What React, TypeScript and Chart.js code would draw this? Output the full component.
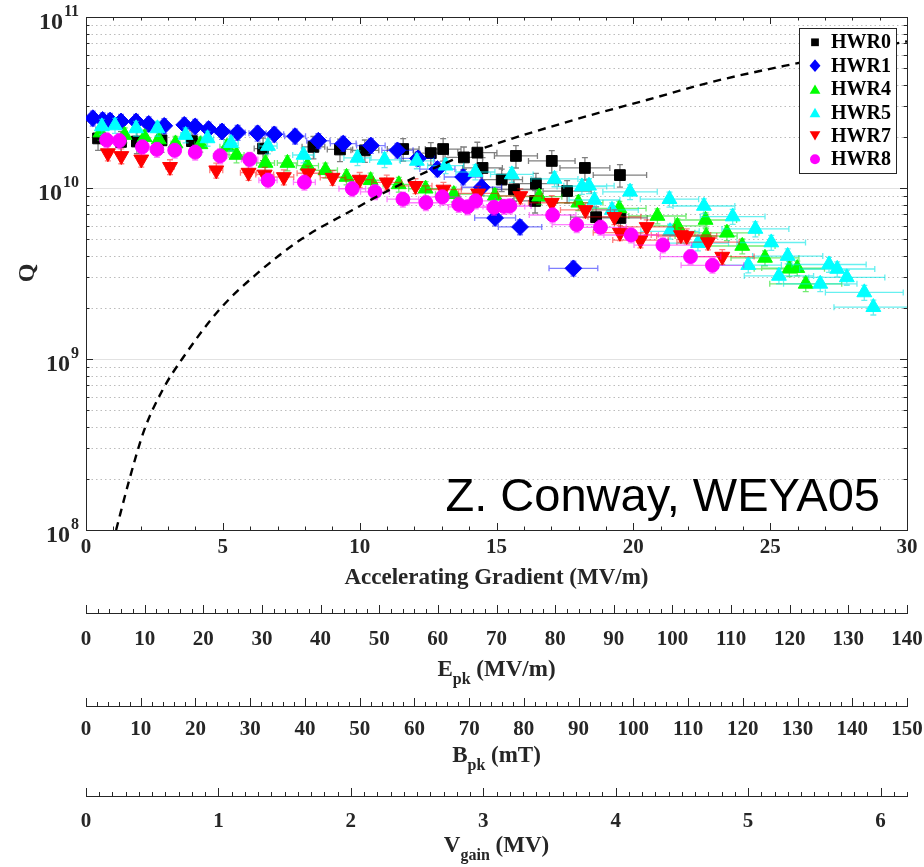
import React, { useEffect, useRef } from "react";
import { Chart, registerables } from "chart.js";

Chart.register(...registerables);

const FONT = "'Liberation Serif', 'Times New Roman', Times, serif";
const SANS = "'Liberation Sans', Arial, Helvetica, sans-serif";
const AXIS_COLOR = "#262626";

// ---------------- data ----------------
const SERIES_LABELS = ["HWR0", "HWR1", "HWR4", "HWR5", "HWR7", "HWR8"];

const HWR0_E = [0.44, 1.28, 1.86, 2.76, 3.87, 6.47, 8.31, 9.28, 10.19, 11.59, 12.6, 13.05, 13.81, 14.3, 14.49, 15.19, 15.64, 15.71, 16.44, 16.41, 17.02, 17.58, 18.23, 18.64, 19.51, 19.53];
const HWR0_Q = [1.95e10, 1.86e10, 1.87e10, 1.9e10, 1.88e10, 1.7e10, 1.74e10, 1.68e10, 1.66e10, 1.69e10, 1.6e10, 1.69e10, 1.51e10, 1.61e10, 1.31e10, 1.12e10, 9.8e9, 1.54e10, 1.06e10, 8.4e9, 1.44e10, 9.6e9, 1.31e10, 6.75e9, 1.19e10, 6.68e9];

const HWR1_E = [0.25, 0.61, 0.88, 1.28, 1.83, 2.29, 2.86, 3.59, 3.99, 4.48, 4.97, 5.54, 6.27, 6.88, 7.64, 8.49, 9.4, 10.41, 11.38, 12.13, 12.84, 13.78, 14.46, 14.95, 15.86, 17.81];
const HWR1_Q = [2.56e10, 2.5e10, 2.48e10, 2.45e10, 2.45e10, 2.37e10, 2.31e10, 2.34e10, 2.29e10, 2.21e10, 2.14e10, 2.11e10, 2.09e10, 2.06e10, 2.01e10, 1.89e10, 1.82e10, 1.77e10, 1.66e10, 1.49e10, 1.29e10, 1.16e10, 1.01e10, 6.68e9, 5.92e9, 3.39e9];

const HWR4_E = [0.53, 1.41, 2.14, 2.66, 3.27, 4.18, 5.15, 5.5, 6.56, 7.36, 8.09, 8.75, 9.52, 10.4, 11.43, 12.41, 13.44, 14.94, 16.56, 17.99, 19.49, 20.88, 21.61, 22.64, 22.66, 23.42, 23.98, 24.81, 25.7, 25.99, 26.3];
const HWR4_Q = [2.11e10, 2.04e10, 1.98e10, 1.92e10, 1.82e10, 1.8e10, 1.74e10, 1.56e10, 1.4e10, 1.4e10, 1.35e10, 1.27e10, 1.16e10, 1.11e10, 1.05e10, 9.9e9, 9.2e9, 9.0e9, 8.9e9, 8.2e9, 7.6e9, 6.86e9, 6.0e9, 6.5e9, 5.24e9, 5.47e9, 4.58e9, 3.9e9, 3.37e9, 3.4e9, 2.75e9];

const HWR5_E = [0.58, 1.06, 1.83, 2.61, 3.64, 4.44, 5.3, 6.65, 7.95, 9.92, 10.91, 12.09, 13.14, 14.23, 15.56, 17.12, 18.12, 18.38, 18.58, 19.22, 19.88, 21.32, 21.34, 22.36, 22.58, 23.63, 24.2, 24.46, 25.04, 25.32, 25.64, 26.83, 27.15, 27.45, 27.8, 28.44, 28.77];
const HWR5_Q = [2.29e10, 2.32e10, 2.23e10, 2.23e10, 2.04e10, 1.95e10, 1.83e10, 1.76e10, 1.56e10, 1.5e10, 1.46e10, 1.44e10, 1.35e10, 1.24e10, 1.2e10, 1.13e10, 1.02e10, 1.03e10, 8.51e9, 7.44e9, 9.5e9, 8.6e9, 5.58e9, 4.76e9, 7.85e9, 6.81e9, 3.54e9, 5.76e9, 4.8e9, 3.06e9, 4.0e9, 2.75e9, 3.57e9, 3.36e9, 3.0e9, 2.45e9, 2.01e9];

const HWR7_E = [0.8, 1.29, 2.02, 3.07, 4.76, 5.94, 6.53, 7.23, 8.12, 9.01, 10.0, 10.99, 12.04, 13.06, 14.33, 15.87, 17.02, 18.25, 19.31, 19.51, 20.26, 20.49, 21.74, 21.95, 22.73, 23.25];
const HWR7_Q = [1.6e10, 1.54e10, 1.47e10, 1.33e10, 1.27e10, 1.23e10, 1.2e10, 1.16e10, 1.22e10, 1.15e10, 1.12e10, 1.08e10, 1.03e10, 9.8e9, 9.3e9, 8.98e9, 8.2e9, 7.44e9, 6.78e9, 5.48e9, 4.96e9, 5.92e9, 5.31e9, 5.24e9, 4.83e9, 3.97e9];

const HWR8_E = [0.75, 1.22, 2.06, 2.59, 3.24, 3.99, 4.9, 5.98, 6.65, 7.98, 9.73, 10.56, 11.58, 12.42, 13.02, 13.62, 13.94, 14.24, 14.91, 15.27, 15.49, 17.05, 17.93, 18.8, 19.92, 21.08, 22.09, 22.89];
const HWR8_Q = [1.91e10, 1.89e10, 1.74e10, 1.68e10, 1.66e10, 1.62e10, 1.54e10, 1.47e10, 1.11e10, 1.08e10, 9.9e9, 9.5e9, 8.6e9, 8.2e9, 8.86e9, 8.0e9, 7.75e9, 8.4e9, 7.7e9, 7.8e9, 7.85e9, 6.95e9, 6.1e9, 5.89e9, 5.31e9, 4.64e9, 3.97e9, 3.53e9];

// dashed reference curve
const CURVE_E = [1.1, 1.58, 2.13, 2.8, 3.53, 4.87, 6.33, 7.92, 9.74, 10.96, 13.4, 14.52, 18.05, 20.49, 22.92, 25.97, 30.0];
const CURVE_Q = [1.0e8, 1.96e8, 3.85e8, 6.6e8, 1.01e9, 1.94e9, 3.24e9, 5.08e9, 7.43e9, 9.5e9, 1.46e10, 1.71e10, 2.56e10, 3.27e10, 4.19e10, 5.36e10, 7.2e10];

// relative uncertainties (error bars)
const X_ERR_FRAC = 0.05;
const Q_ERR_FRAC = [0.15, 0.1, 0.1, 0.1, 0.1, 0.1];

// axes
const X_TICKS = [0, 5, 10, 15, 20, 25, 30];
const EPK_TICKS = [0, 10, 20, 30, 40, 50, 60, 70, 80, 90, 100, 110, 120, 130, 140];
const BPK_TICKS = [0, 10, 20, 30, 40, 50, 60, 70, 80, 90, 100, 110, 120, 130, 140, 150];
const VGAIN_TICKS = [0, 1, 2, 3, 4, 5, 6];
const Y_DECADES = [1e8, 1e9, 1e10, 1e11];
const Y_EXPONENTS = ["8", "9", "10", "11"];

const X_RANGE = [0, 30];
const EPK_RANGE = [0, 140];
const BPK_RANGE = [0, 150];
const VGAIN_RANGE = [0, 6.2];

const ANNOTATION = "Z. Conway, WEYA05";

// ---------------- styles ----------------
type SeriesDef = {
  label: string;
  e: number[];
  q: number[];
  color: string;
  bar: string;
  style: string;
  radius: number;
  rotation: number;
  qErr: number;
};

const SERIES: SeriesDef[] = [
  { label: SERIES_LABELS[0], e: HWR0_E, q: HWR0_Q, color: "#000000", bar: "rgba(0,0,0,0.5)", style: "rect", radius: 7.6, rotation: 0, qErr: Q_ERR_FRAC[0] },
  { label: SERIES_LABELS[1], e: HWR1_E, q: HWR1_Q, color: "#0000ff", bar: "rgba(0,0,255,0.5)", style: "rectRot", radius: 8.4, rotation: 0, qErr: Q_ERR_FRAC[1] },
  { label: SERIES_LABELS[2], e: HWR4_E, q: HWR4_Q, color: "#00ff00", bar: "rgba(0,220,0,0.55)", style: "triangle", radius: 8.6, rotation: 0, qErr: Q_ERR_FRAC[2] },
  { label: SERIES_LABELS[3], e: HWR5_E, q: HWR5_Q, color: "#00ffff", bar: "rgba(0,230,230,0.6)", style: "triangle", radius: 8.6, rotation: 0, qErr: Q_ERR_FRAC[3] },
  { label: SERIES_LABELS[4], e: HWR7_E, q: HWR7_Q, color: "#ff0000", bar: "rgba(255,0,0,0.5)", style: "triangle", radius: 8.6, rotation: 180, qErr: Q_ERR_FRAC[4] },
  { label: SERIES_LABELS[5], e: HWR8_E, q: HWR8_Q, color: "#ff00ff", bar: "rgba(255,0,255,0.5)", style: "circle", radius: 6.9, rotation: 0, qErr: Q_ERR_FRAC[5] },
];

function drawMarker(ctx: CanvasRenderingContext2D, s: SeriesDef, x: number, y: number, r: number) {
  ctx.beginPath();
  if (s.style === "rect") {
    const h = r * Math.SQRT1_2;
    ctx.rect(x - h, y - h, 2 * h, 2 * h);
  } else if (s.style === "rectRot") {
    ctx.moveTo(x, y - r * 1.05);
    ctx.lineTo(x + r * 0.9, y);
    ctx.lineTo(x, y + r * 1.05);
    ctx.lineTo(x - r * 0.9, y);
    ctx.closePath();
  } else if (s.style === "triangle") {
    const sg = s.rotation === 180 ? -1 : 1;
    const c = y + sg * r * 0.25;
    ctx.moveTo(x, c - sg * r);
    ctx.lineTo(x + r * 0.866, c + (sg * r) / 2);
    ctx.lineTo(x - r * 0.866, c + (sg * r) / 2);
    ctx.closePath();
  } else {
    ctx.arc(x, y, r, 0, Math.PI * 2);
  }
  ctx.fillStyle = s.color;
  ctx.fill();
}

function range(a: number, b: number, step: number) {
  const out: number[] = [];
  const n = Math.round((b - a) / step);
  for (let i = 0; i <= n; i++) out.push(+(a + i * step).toFixed(6));
  return out;
}

const crisp = (v: number) => Math.round(v) + 0.5;

const decorPlugin = {
  id: "decor",
  beforeDatasetsDraw(chart: any) {
    const { ctx, chartArea: ca } = chart;
    const ys = chart.scales.y;
    ctx.save();
    ctx.lineWidth = 1;
    // minor dotted grid
    ctx.strokeStyle = "#bcbcbc";
    ctx.setLineDash([1.5, 3]);
    ctx.beginPath();
    for (let d = 0; d < Y_DECADES.length - 1; d++) {
      for (let k = 2; k <= 9; k++) {
        const py = crisp(ys.getPixelForValue(k * Y_DECADES[d]));
        ctx.moveTo(ca.left + 1, py);
        ctx.lineTo(ca.right, py);
      }
    }
    ctx.stroke();
    // major solid grid
    ctx.setLineDash([]);
    ctx.strokeStyle = "#e2e2e2";
    ctx.beginPath();
    for (let d = 1; d < Y_DECADES.length - 1; d++) {
      const py = crisp(ys.getPixelForValue(Y_DECADES[d]));
      ctx.moveTo(ca.left + 1, py);
      ctx.lineTo(ca.right, py);
    }
    ctx.stroke();
    ctx.restore();
  },
  beforeDatasetDraw(chart: any, args: any) {
    const s = SERIES[args.index];
    if (!s) return;
    const { ctx, chartArea: ca } = chart;
    const xs = chart.scales.x;
    const ys = chart.scales.y;
    ctx.save();
    ctx.beginPath();
    ctx.rect(ca.left, ca.top, ca.right - ca.left, ca.bottom - ca.top);
    ctx.clip();
    ctx.strokeStyle = s.bar;
    ctx.lineWidth = 1.3;
    ctx.beginPath();
    s.e.forEach((e, j) => {
      const q = s.q[j];
      const px = xs.getPixelForValue(e);
      const py = ys.getPixelForValue(q);
      const x1 = xs.getPixelForValue(e * (1 - X_ERR_FRAC));
      const x2 = xs.getPixelForValue(e * (1 + X_ERR_FRAC));
      const y1 = ys.getPixelForValue(q * (1 + s.qErr));
      const y2 = ys.getPixelForValue(q * (1 - s.qErr));
      ctx.moveTo(x1, py);
      ctx.lineTo(x2, py);
      ctx.moveTo(x1, py - 3);
      ctx.lineTo(x1, py + 3);
      ctx.moveTo(x2, py - 3);
      ctx.lineTo(x2, py + 3);
      ctx.moveTo(px, y1);
      ctx.lineTo(px, y2);
      ctx.moveTo(px - 3, y1);
      ctx.lineTo(px + 3, y1);
      ctx.moveTo(px - 3, y2);
      ctx.lineTo(px + 3, y2);
    });
    ctx.stroke();
    ctx.restore();
  },
  afterDraw(chart: any) {
    const { ctx, chartArea: ca, scales } = chart;
    const xs = scales.x;
    const ys = scales.y;
    ctx.save();
    ctx.strokeStyle = AXIS_COLOR;
    ctx.lineWidth = 1;
    ctx.setLineDash([]);
    // box top & right
    ctx.beginPath();
    ctx.moveTo(ca.left, crisp(ca.top));
    ctx.lineTo(ca.right + 1, crisp(ca.top));
    ctx.moveTo(crisp(ca.right), ca.top);
    ctx.lineTo(crisp(ca.right), ca.bottom + 1);
    ctx.stroke();

    // ticks
    ctx.beginPath();
    const xMinor = range(X_RANGE[0], X_RANGE[1], 1);
    xMinor.forEach((v) => {
      const len = X_TICKS.includes(v) ? 7 : 3.5;
      const px = crisp(xs.getPixelForValue(v));
      ctx.moveTo(px, ca.bottom);
      ctx.lineTo(px, ca.bottom - len);
      ctx.moveTo(px, ca.top);
      ctx.lineTo(px, ca.top + len);
    });
    for (let d = 0; d < Y_DECADES.length; d++) {
      const kmax = d === Y_DECADES.length - 1 ? 1 : 9;
      for (let k = 1; k <= kmax; k++) {
        const len = k === 1 ? 7 : 3.5;
        const py = crisp(ys.getPixelForValue(k * Y_DECADES[d]));
        ctx.moveTo(ca.left, py);
        ctx.lineTo(ca.left + len, py);
        ctx.moveTo(ca.right, py);
        ctx.lineTo(ca.right - len, py);
      }
    }
    const secondary: [string, number[], number[], number][] = [
      ["xE", EPK_TICKS, EPK_RANGE, 2],
      ["xB", BPK_TICKS, BPK_RANGE, 2],
      ["xV", VGAIN_TICKS, VGAIN_RANGE, 0.1],
    ];
    secondary.forEach(([id, majors, rg, step]) => {
      const sc = scales[id];
      const top = sc.top;
      range(rg[0], rg[1], step).forEach((v) => {
        const isMajor = majors.some((m) => Math.abs(m - v) < 1e-6);
        const len = isMajor ? 8 : 4;
        const px = crisp(sc.getPixelForValue(v));
        ctx.moveTo(px, top);
        ctx.lineTo(px, top - len);
      });
    });
    ctx.stroke();

    // y tick labels 10^n
    ctx.fillStyle = AXIS_COLOR;
    Y_DECADES.forEach((v, i) => {
      const py = ys.getPixelForValue(v);
      const exp = Y_EXPONENTS[i];
      ctx.font = `bold 16px ${FONT}`;
      const ew = ctx.measureText(exp).width;
      const xr = 79;
      ctx.textAlign = "left";
      ctx.textBaseline = "middle";
      ctx.fillText(exp, xr - ew, py - 5);
      ctx.font = `bold 24px ${FONT}`;
      ctx.textAlign = "right";
      ctx.fillText("10", xr - ew - 1, py + 6);
    });

    // axis titles
    const cx = (ca.left + ca.right) / 2;
    ctx.textBaseline = "middle";
    ctx.textAlign = "center";
    ctx.font = `bold 23px ${FONT}`;
    ctx.fillText("Accelerating Gradient (MV/m)", cx, 578);

    ctx.save();
    ctx.translate(28, 273);
    ctx.rotate(-Math.PI / 2);
    ctx.font = `bold 24px ${FONT}`;
    ctx.fillText("Q", 0, 0);
    ctx.restore();

    const subTitle = (main: string, sub: string, rest: string, y: number) => {
      ctx.font = `bold 23px ${FONT}`;
      const w1 = ctx.measureText(main).width;
      const w3 = ctx.measureText(rest).width;
      ctx.font = `bold 16px ${FONT}`;
      const w2 = ctx.measureText(sub).width;
      let x = cx - (w1 + w2 + w3) / 2;
      ctx.textAlign = "left";
      ctx.font = `bold 23px ${FONT}`;
      ctx.fillText(main, x, y);
      x += w1;
      ctx.font = `bold 16px ${FONT}`;
      ctx.fillText(sub, x, y + 10);
      x += w2;
      ctx.font = `bold 23px ${FONT}`;
      ctx.fillText(rest, x, y);
    };
    subTitle("E", "pk", " (MV/m)", 670);
    subTitle("B", "pk", " (mT)", 756);
    subTitle("V", "gain", " (MV)", 846);

    // annotation
    ctx.font = `47px ${SANS}`;
    ctx.textAlign = "right";
    ctx.textBaseline = "alphabetic";
    ctx.fillStyle = "#000";
    ctx.fillText(ANNOTATION, 880, 511);

    // legend
    const lx = 799, ly = 28, lw = 97, lh = 145;
    ctx.fillStyle = "#ffffff";
    ctx.fillRect(lx, ly, lw, lh);
    ctx.strokeStyle = AXIS_COLOR;
    ctx.lineWidth = 1;
    ctx.strokeRect(lx + 0.5, ly + 0.5, lw, lh);
    SERIES.forEach((s, i) => {
      const ry = 42.3 + i * 23.4;
      drawMarker(ctx, s, 815, ry, s.radius * 0.72);
      ctx.fillStyle = "#000";
      ctx.font = `bold 20px ${FONT}`;
      ctx.textAlign = "left";
      ctx.textBaseline = "middle";
      ctx.fillText(s.label, 831, ry + 1);
    });
    ctx.restore();
  },
};

function xAxis(min: number, max: number, ticks: number[], weight: number, height: number, offset: number) {
  return {
    type: "linear",
    position: "bottom",
    min,
    max,
    weight,
    afterBuildTicks: (s: any) => {
      s.ticks = ticks.map((v) => ({ value: v }));
    },
    afterFit: (s: any) => {
      s.height = height;
    },
    // invisible tick marks only used to offset the labels downward
    grid: { display: true, drawOnChartArea: false, drawTicks: true, tickLength: offset, tickColor: "rgba(0,0,0,0)", color: "rgba(0,0,0,0)" },
    border: { display: true, color: AXIS_COLOR, width: 1 },
    ticks: {
      autoSkip: false,
      maxRotation: 0,
      minRotation: 0,
      padding: 0,
      color: AXIS_COLOR,
      font: { family: FONT, size: 21, weight: "bold" },
      callback: (v: any) => String(v),
    },
  };
}

export default function App() {
  const ref = useRef<HTMLCanvasElement>(null);

  useEffect(() => {
    document.body.style.margin = "0";
    const datasets: any[] = SERIES.map((s, i) => ({
      label: s.label,
      data: s.e.map((x, j) => ({ x, y: s.q[j] })),
      pointStyle: s.style,
      pointRadius: s.radius,
      pointRotation: s.rotation,
      pointBackgroundColor: s.color,
      pointBorderColor: s.color,
      pointBorderWidth: 1,
      backgroundColor: s.color,
      borderColor: s.color,
      showLine: false,
      order: SERIES.length - i,
      xAxisID: "x",
      yAxisID: "y",
    }));
    datasets.push({
      label: "curve",
      data: CURVE_E.map((x, j) => ({ x, y: CURVE_Q[j] })),
      showLine: true,
      borderColor: "#000000",
      borderWidth: 2.4,
      borderDash: [8, 6],
      pointRadius: 0,
      cubicInterpolationMode: "monotone",
      fill: false,
      order: 0,
      xAxisID: "x",
      yAxisID: "y",
    });

    const chart = new Chart(ref.current as HTMLCanvasElement, {
      type: "scatter",
      data: { datasets },
      options: {
        animation: false,
        responsive: false,
        devicePixelRatio: 1,
        events: [],
        layout: { padding: { top: 17, right: 17, left: 0, bottom: 0 } },
        plugins: { legend: { display: false }, tooltip: { enabled: false } },
        scales: {
          x: xAxis(X_RANGE[0], X_RANGE[1], X_TICKS, 0, 83, 5),
          xE: xAxis(EPK_RANGE[0], EPK_RANGE[1], EPK_TICKS, 1, 93, 14),
          xB: xAxis(BPK_RANGE[0], BPK_RANGE[1], BPK_TICKS, 2, 90, 11),
          xV: xAxis(VGAIN_RANGE[0], VGAIN_RANGE[1], VGAIN_TICKS, 3, 71, 13),
          y: {
            type: "logarithmic",
            position: "left",
            min: Y_DECADES[0],
            max: Y_DECADES[Y_DECADES.length - 1],
            afterBuildTicks: (s: any) => {
              s.ticks = Y_DECADES.map((v) => ({ value: v, major: true }));
            },
            afterFit: (s: any) => {
              s.width = 86;
            },
            grid: { display: false, drawTicks: false },
            border: { display: true, color: AXIS_COLOR, width: 1 },
            ticks: { display: false },
          },
        },
      } as any,
      plugins: [decorPlugin],
    });
    return () => chart.destroy();
  }, []);

  return (
    <div style={{ width: 924, height: 867, background: "#ffffff" }}>
      <canvas ref={ref} width={924} height={867} style={{ display: "block" }} />
    </div>
  );
}
